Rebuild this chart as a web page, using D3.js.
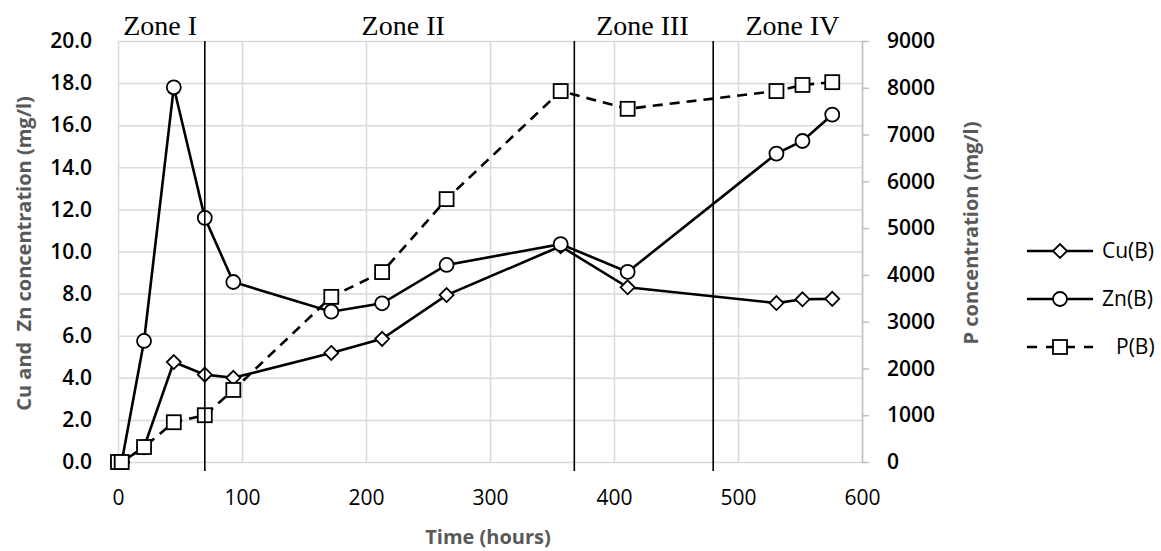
<!DOCTYPE html>
<html>
<head>
<meta charset="utf-8">
<script src="https://cdn.jsdelivr.net/npm/d3@7"></script>
<style>
  body { margin: 0; background: #fff; }
  svg { display: block; }
  .tick text { font-family: "Open Sans", sans-serif; fill: #000; }
</style>
</head>
<body>
<div id="chart"></div>
<script>
// values
const timeHours = [0, 3, 21, 45, 70, 93, 172, 213, 265, 357, 411, 531, 552, 576];
const cuB = [0, 0, 0.7, 4.75, 4.15, 4.0, 5.18, 5.85, 7.93, 10.25, 8.3, 7.55, 7.73, 7.75];
const znB = [0, 0, 5.75, 17.8, 11.6, 8.55, 7.14, 7.54, 9.36, 10.35, 9.03, 14.65, 15.25, 16.5];
const pB = [0, 0, 320, 850, 1000, 1540, 3530, 4060, 5620, 7930, 7550, 7930, 8060, 8120];

const zoneBounds = [70, 368, 480]; // hours
const zoneNames = ["Zone I", "Zone II", "Zone III", "Zone IV"];
const zoneLabelAt = [34, 230, 423, 544]; // hours

const xTicks = [0, 100, 200, 300, 400, 500, 600];
const yLeftTicks = [0, 2, 4, 6, 8, 10, 12, 14, 16, 18, 20];
const yRightTicks = [0, 1000, 2000, 3000, 4000, 5000, 6000, 7000, 8000, 9000];
const seriesNames = ["Cu(B)", "Zn(B)", "P(B)"];

const width = 1161, height = 551,
    margin = ({ top: 41, right: 299, bottom: 89, left: 118 });

const svg = d3.select("#chart")
    .append("svg")
    .attr("width", width)
    .attr("height", height);

const x = d3.scaleLinear().domain([0, 600]).range([margin.left, width - margin.right]);
const y = d3.scaleLinear().domain([0, 20]).range([height - margin.bottom, margin.top]);
const y2 = d3.scaleLinear().domain([0, 9000]).range([height - margin.bottom, margin.top]);

const grid = "#d9d9d9";

// horizontal grid + left labels
const gy = svg.append("g")
    .attr("transform", `translate(${margin.left},0)`)
    .call(d3.axisLeft(y).tickValues(yLeftTicks).tickFormat(d3.format(".1f"))
        .tickSize(-(x(600) - x(0))).tickPadding(26));
gy.select(".domain").remove();
gy.selectAll(".tick line").attr("stroke", grid).attr("stroke-width", 1.5);
gy.selectAll(".tick text").attr("font-size", 21).attr("font-weight", 600);

// vertical grid + bottom labels
const gx = svg.append("g")
    .attr("transform", `translate(0,${y(0)})`)
    .call(d3.axisBottom(x).tickValues(xTicks).tickSize(-(y(0) - y(20))).tickPadding(26));
gx.select(".domain").remove();
gx.selectAll(".tick line").attr("stroke", grid).attr("stroke-width", 1.5);
gx.selectAll(".tick text").attr("font-size", 21).attr("dy", "0.32em").attr("y", 36);

// right axis
const gr = svg.append("g")
    .attr("transform", `translate(${x(600)},0)`)
    .call(d3.axisRight(y2).tickValues(yRightTicks).tickFormat(d3.format("d"))
        .tickSize(7).tickPadding(18).tickSizeOuter(0));
gr.select(".domain").attr("stroke", "#bfbfbf").attr("stroke-width", 1.5);
gr.selectAll(".tick line").attr("stroke", "#bfbfbf").attr("stroke-width", 1.5);
gr.selectAll(".tick text").attr("font-size", 21).attr("font-weight", 600);

// axis titles
const titleStyle = sel => sel
    .attr("font-family", "'Open Sans', sans-serif")
    .attr("font-weight", 700)
    .attr("font-size", 20)
    .attr("fill", "#595959")
    .attr("text-anchor", "middle");

svg.append("text").call(titleStyle)
    .attr("x", x(300) - 2).attr("y", 544)
    .text("Time (hours)");

svg.append("text").call(titleStyle)
    .attr("transform", `translate(31,${(y(0) + y(20)) / 2 + 2}) rotate(-90)`)
    .attr("xml:space", "preserve")
    .style("white-space", "pre")
    .text("Cu and  Zn concentration (mg/l)");

svg.append("text").call(titleStyle)
    .attr("transform", `translate(978,233) rotate(-90)`)
    .text("P concentration (mg/l)");

// series
const pts = (vals, yScale) => timeHours.map((t, i) => [x(t), yScale(vals[i])]);
const line = d3.line();

const series = [
    { name: seriesNames[0], data: pts(cuB, y), shape: "diamond", dash: null },
    { name: seriesNames[1], data: pts(znB, y), shape: "circle", dash: null },
    { name: seriesNames[2], data: pts(pB, y2), shape: "square", dash: "10,7" }
];

function marker(g, shape, cx, cy) {
    if (shape === "circle") {
        g.append("circle").attr("cx", cx).attr("cy", cy).attr("r", 7);
    } else if (shape === "square") {
        g.append("rect").attr("x", cx - 7).attr("y", cy - 7).attr("width", 14).attr("height", 14);
    } else {
        const s = 7;
        g.append("path").attr("d", `M${cx},${cy - s}L${cx + s},${cy}L${cx},${cy + s}L${cx - s},${cy}Z`);
    }
}

series.forEach(s => {
    svg.append("path")
        .attr("d", line(s.data))
        .attr("fill", "none")
        .attr("stroke", "#000")
        .attr("stroke-width", 2.6)
        .attr("stroke-dasharray", s.dash);
    const gm = svg.append("g").attr("fill", "#fff").attr("stroke", "#000").attr("stroke-width", 1.8);
    s.data.forEach(d => marker(gm, s.shape, d[0], d[1]));
});

// zone boundaries
svg.append("g").selectAll("line")
    .data(zoneBounds)
    .join("line")
    .attr("x1", d => x(d)).attr("x2", d => x(d))
    .attr("y1", y(20)).attr("y2", y(0) + 9)
    .attr("stroke", "#000")
    .attr("stroke-width", 1.6);

svg.append("g").selectAll("text")
    .data(zoneNames)
    .join("text")
    .attr("x", (d, i) => x(zoneLabelAt[i]))
    .attr("y", 35)
    .attr("text-anchor", "middle")
    .attr("font-family", "'Liberation Serif', 'Times New Roman', serif")
    .attr("font-size", 28)
    .text(d => d);

// legend
const legendY = [251, 299, 347];
series.forEach((s, i) => {
    const g = svg.append("g");
    g.append("line")
        .attr("x1", 1027).attr("x2", 1093)
        .attr("y1", legendY[i]).attr("y2", legendY[i])
        .attr("stroke", "#000").attr("stroke-width", 2.6)
        .attr("stroke-dasharray", s.dash ? "10,9" : null);
    const gm = g.append("g").attr("fill", "#fff").attr("stroke", "#000").attr("stroke-width", 1.8);
    marker(gm, s.shape, 1060, legendY[i]);
    g.append("text")
        .attr("x", i === 2 ? 1116 : 1102)
        .attr("y", legendY[i])
        .attr("dy", "0.35em")
        .attr("font-family", "'Open Sans', sans-serif")
        .attr("font-size", 21)
        .text(s.name);
});
</script>
</body>
</html>
